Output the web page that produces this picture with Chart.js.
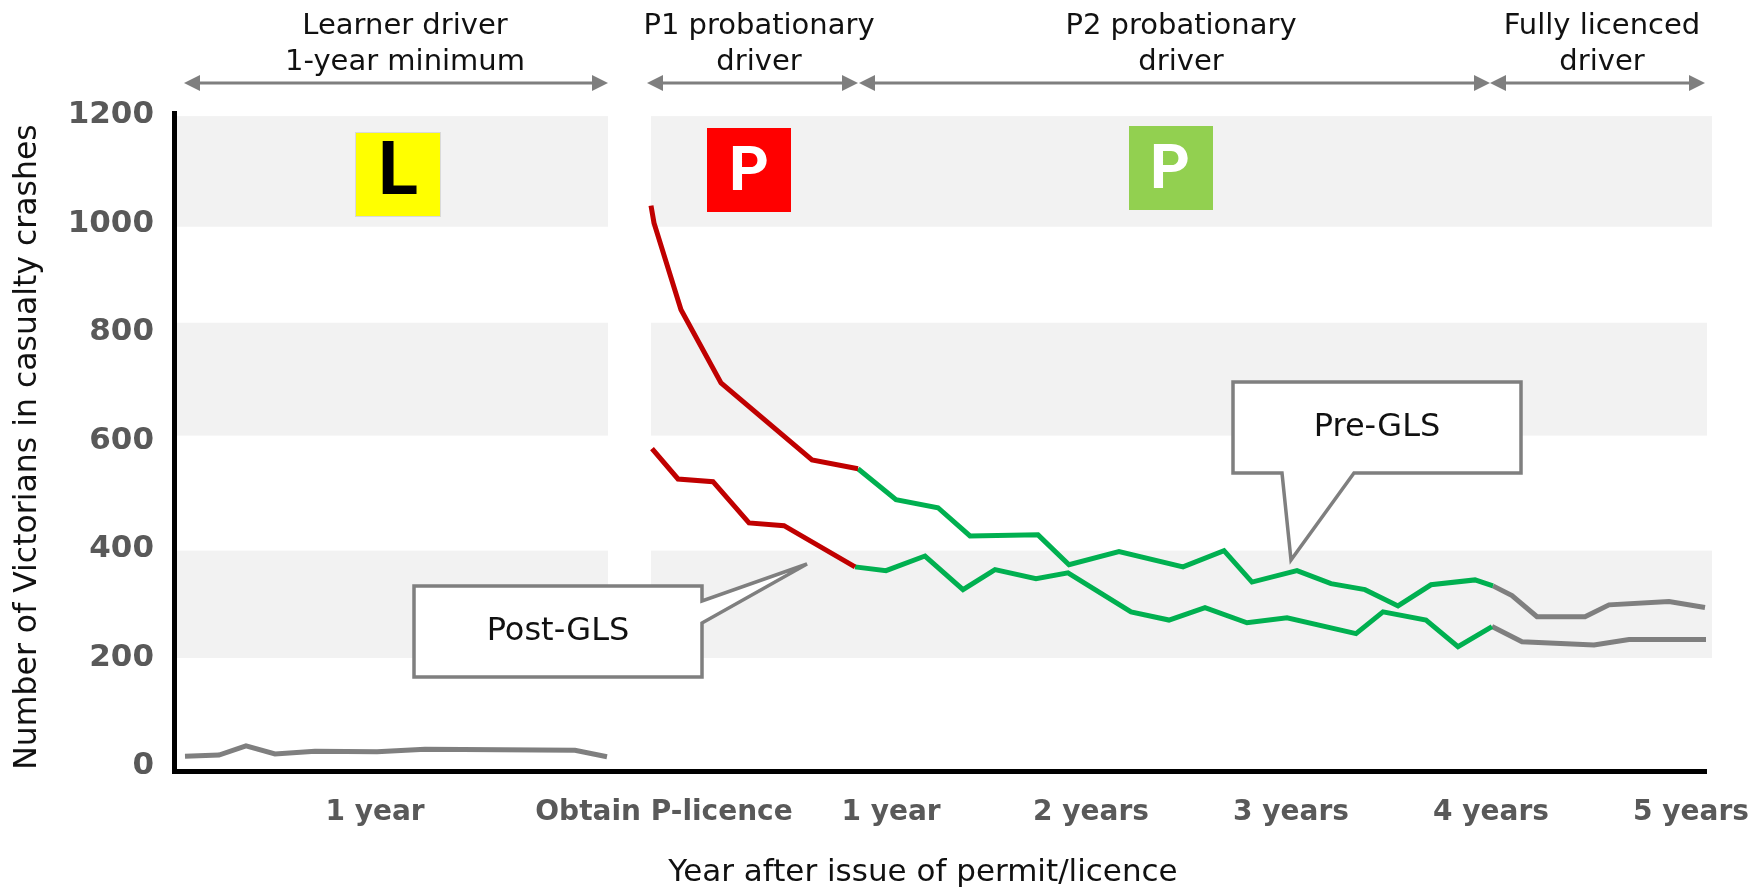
<!DOCTYPE html>
<html>
<head>
<meta charset="utf-8">
<title>Victorians in casualty crashes</title>
<script src="https://cdn.jsdelivr.net/npm/chart.js@4"></script>
<style>
  html, body { margin: 0; padding: 0; background: #fff; }
  canvas { display: block; }
</style>
</head>
<body>
<canvas id="grafico" width="1750" height="887"></canvas>
<script>
// x values are years after the P-licence tick, y values are people in casualty crashes
const yTicks = [0, 200, 400, 600, 800, 1000, 1200];
const xTicks = [-1.58, -0.135, 1, 2, 3, 4, 5];
const xTickLabels = ['1 year', 'Obtain P-licence', '1 year', '2 years', '3 years', '4 years', '5 years'];

const learnerX = [-2.53, -2.36, -2.225, -2.08, -1.88, -1.57, -1.33, -0.58, -0.42];
const learnerY = [18, 20, 37, 22, 27, 26, 31, 29, 17];

const preP1X = [-0.2, -0.185, -0.05, 0.15, 0.605, 0.835];
const preP1Y = [1033, 1001, 841, 706, 564, 548];
const preP2X = [0.835, 1.025, 1.235, 1.395, 1.735, 1.89, 2.14, 2.46, 2.665, 2.805, 3.03, 3.2, 3.37, 3.535, 3.7, 3.92, 4.01];
const preP2Y = [548, 491, 476, 424, 426, 371, 395, 367, 397, 339, 360, 336, 325, 295, 334, 343, 332];
const preFullX = [4.01, 4.105, 4.23, 4.47, 4.59, 4.89, 5.07];
const preFullY = [332, 314, 275, 275, 297, 303, 292];

const postP1X = [-0.195, -0.065, 0.11, 0.29, 0.465, 0.82];
const postP1Y = [585, 529, 524, 448, 443, 367];
const postP2X = [0.82, 0.975, 1.17, 1.36, 1.52, 1.725, 1.885, 2.2, 2.39, 2.57, 2.78, 2.98, 3.325, 3.46, 3.675, 3.835, 4.005];
const postP2Y = [367, 360, 387, 325, 362, 345, 356, 284, 269, 292, 264, 273, 244, 284, 269, 220, 257];
const postFullX = [4.005, 4.155, 4.515, 4.69, 5.075];
const postFullY = [257, 229, 223, 233, 233];

const bandTops = [1198, 817, 397];
const bandBottoms = [994, 609, 199];

const CINZA = '#7F7F7F';
const VERMELHO = '#C00000';
const VERDE = '#00B050';
const FONTE = '"DejaVu Sans"';

function pontos(xs, ys) {
  return xs.map((x, i) => ({ x, y: ys[i] }));
}

function serie(label, xs, ys, cor) {
  return {
    label,
    data: pontos(xs, ys),
    borderColor: cor,
    borderWidth: 5,
    pointRadius: 0,
    tension: 0,
    borderJoinStyle: 'miter',
    borderCapStyle: 'butt'
  };
}

function setaDupla(c, x1, x2, y) {
  c.strokeStyle = CINZA;
  c.fillStyle = CINZA;
  c.lineWidth = 3;
  c.beginPath();
  c.moveTo(x1 + 10, y);
  c.lineTo(x2 - 10, y);
  c.stroke();
  [[x1, 1], [x2, -1]].forEach(([x, d]) => {
    c.beginPath();
    c.moveTo(x, y);
    c.lineTo(x + d * 16, y - 8);
    c.lineTo(x + d * 16, y + 8);
    c.closePath();
    c.fill();
  });
}

function caixaFala(c, caminho, texto, tx, ty) {
  c.beginPath();
  caminho.forEach(([x, y], i) => (i ? c.lineTo(x, y) : c.moveTo(x, y)));
  c.closePath();
  c.fillStyle = '#fff';
  c.fill();
  c.strokeStyle = CINZA;
  c.lineWidth = 3.5;
  c.lineJoin = 'miter';
  c.stroke();
  c.fillStyle = '#111';
  c.font = `32px ${FONTE}`;
  c.fillText(texto, tx, ty);
}

function placa(c, x, y, w, h, fundo, letra, corLetra, tamanho, lx, ly) {
  c.fillStyle = fundo;
  c.fillRect(x, y, w, h);
  c.fillStyle = corLetra;
  c.font = `bold ${tamanho}px Roboto`;
  c.fillText(letra, lx, ly);
}

const fundoPlugin = {
  id: 'faixas',
  beforeDatasetsDraw(chart) {
    const { ctx: c, scales: { x, y } } = chart;
    c.save();
    c.fillStyle = '#F2F2F2';
    bandTops.forEach((top, i) => {
      const y1 = y.getPixelForValue(top);
      const y2 = y.getPixelForValue(bandBottoms[i]);
      const a1 = x.getPixelForValue(-2.57);
      const a2 = x.getPixelForValue(-0.415);
      const b1 = x.getPixelForValue(-0.2);
      const b2 = x.getPixelForValue(i === 1 ? 5.08 : 5.105);
      c.fillRect(a1, y1, a2 - a1, y2 - y1);
      c.fillRect(b1, y1, b2 - b1, y2 - y1);
    });
    c.restore();
  }
};

const anotacoesPlugin = {
  id: 'anotacoes',
  afterDraw(chart) {
    const c = chart.ctx;
    c.save();
    c.textAlign = 'center';
    c.textBaseline = 'middle';

    c.fillStyle = '#111';
    c.font = `29px ${FONTE}`;
    [['Learner driver', 405, 26], ['1-year minimum', 405, 62],
     ['P1 probationary', 759, 26], ['driver', 759, 62],
     ['P2 probationary', 1181, 26], ['driver', 1181, 62],
     ['Fully licenced', 1602, 26], ['driver', 1602, 62]].forEach(([t, x, y]) => c.fillText(t, x, y));

    setaDupla(c, 184, 608, 83);
    setaDupla(c, 647, 858, 83);
    setaDupla(c, 859, 1490, 83);
    setaDupla(c, 1490, 1705, 83);

    c.strokeStyle = '#D9D9D9';
    c.lineWidth = 2;
    c.strokeRect(356, 133, 84, 83);
    placa(c, 356, 133, 84, 83, '#FFFF00', 'L', '#000', 74, 398, 175);
    placa(c, 707, 128, 84, 84, '#FF0000', 'P', '#fff', 62, 749, 174);
    placa(c, 1129, 126, 84, 84, '#92D050', 'P', '#fff', 62, 1170, 172);

    caixaFala(c, [[414, 586], [702, 586], [702, 601], [807, 564], [702, 623], [702, 677], [414, 677]],
      'Post-GLS', 558, 632);
    caixaFala(c, [[1233, 382], [1521, 382], [1521, 473], [1354, 473], [1291, 560], [1282, 473], [1233, 473]],
      'Pre-GLS', 1377, 428);

    // titulos dos eixos
    c.fillStyle = '#111';
    c.font = `31px ${FONTE}`;
    c.fillText('Year after issue of permit/licence', 923, 873);
    c.translate(28, 447);
    c.rotate(-Math.PI / 2);
    c.font = `31.5px ${FONTE}`;
    c.fillText('Number of Victorians in casualty crashes', 0, 0);
    c.restore();
  }
};

new Chart(document.getElementById('grafico').getContext('2d'), {
  type: 'line',
  data: {
    datasets: [
      serie('Learner', learnerX, learnerY, CINZA),
      serie('Pre-GLS P1', preP1X, preP1Y, VERMELHO),
      serie('Pre-GLS P2', preP2X, preP2Y, VERDE),
      serie('Pre-GLS full', preFullX, preFullY, CINZA),
      serie('Post-GLS P1', postP1X, postP1Y, VERMELHO),
      serie('Post-GLS P2', postP2X, postP2Y, VERDE),
      serie('Post-GLS full', postFullX, postFullY, CINZA)
    ]
  },
  options: {
    responsive: false,
    animation: false,
    clip: false,
    layout: { padding: { top: 113, right: 44, bottom: 0, left: 0 } },
    plugins: { legend: { display: false }, tooltip: { enabled: false } },
    scales: {
      x: {
        type: 'linear',
        min: -2.585,
        max: 5.075,
        afterBuildTicks(scale) { scale.ticks = xTicks.map(value => ({ value })); },
        afterFit(scale) {
          scale.height = 116;
          scale.paddingLeft = 0;
          scale.paddingRight = 0;
        },
        grid: { display: false, drawTicks: false },
        border: { display: true, color: '#000', width: 5 },
        ticks: {
          autoSkip: false,
          maxRotation: 0,
          padding: 25,
          color: '#595959',
          font: { family: 'DejaVu Sans', size: 28, weight: 'bold' },
          callback(value) { return xTickLabels[xTicks.indexOf(value)]; }
        }
      },
      y: {
        type: 'linear',
        min: -9.3,
        max: 1203.7,
        afterBuildTicks(scale) { scale.ticks = yTicks.map(value => ({ value })); },
        afterFit(scale) {
          scale.width = 174;
          scale.paddingTop = 0;
          scale.paddingBottom = 0;
        },
        grid: { display: false, drawTicks: false },
        border: { display: true, color: '#000', width: 5 },
        ticks: {
          padding: 20,
          color: '#595959',
          font: { family: 'DejaVu Sans', size: 31, weight: 'bold' },
          callback(value) { return String(value); }
        }
      }
    }
  },
  plugins: [fundoPlugin, anotacoesPlugin]
});
</script>
</body>
</html>
